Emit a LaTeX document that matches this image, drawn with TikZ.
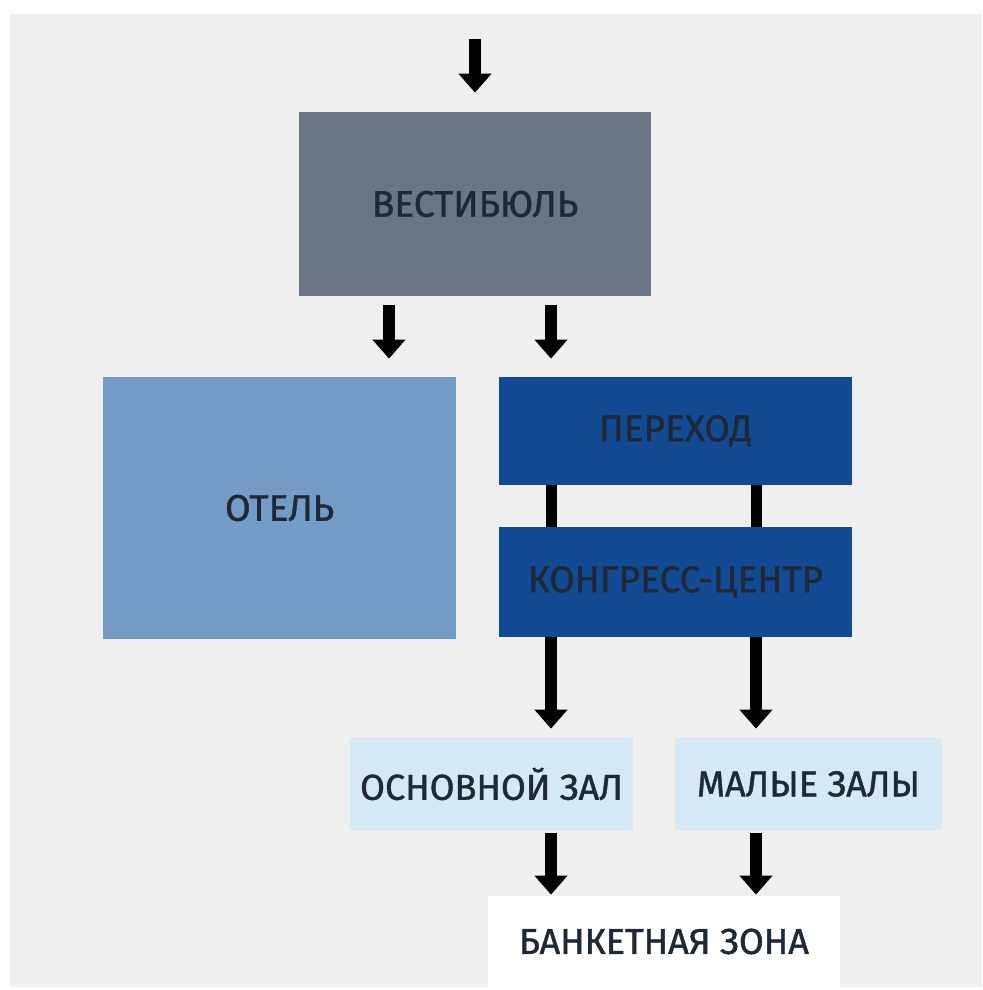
\documentclass[tikz,border=0pt]{standalone}
\usepackage{fontspec}
\setmainfont[FakeBold=1.2]{Fira Sans}
\usetikzlibrary{arrows.meta}

\definecolor{bggray}{HTML}{EFEFEF}
\definecolor{vestgray}{HTML}{6A7684}
\definecolor{hotelblue}{HTML}{739BC6}
\definecolor{deepblue}{HTML}{134A94}
\definecolor{paleblue}{HTML}{D4E8F6}
\definecolor{textdark}{HTML}{1E2836}

\begin{document}
\begin{tikzpicture}[x=0.5pt,y=-0.5pt]

    \tikzset{
      zone/.style={
        draw=none,
        inner sep=0pt,
        text=textdark,
        font=\fontsize{18.5}{20}\selectfont,
      },
      hall/.style={
        zone,
        font=\fontsize{18}{20}\selectfont,
      },
      flow/.style={
        line width=6pt,
        -{Triangle[width=16pt,length=9.5pt]},
      },
      link/.style={line width=5.5pt},
    }
    \useasboundingbox (0,0) rectangle (982,990);
    \fill[bggray] (10,14) rectangle (982,987);

    \node[zone, fill=vestgray, minimum width=176pt, minimum height=92pt] (vest) at (475,204) {ВЕСТИБЮЛЬ};
    \node[zone, fill=hotelblue, minimum width=176.5pt, minimum height=131pt] (hotel) at (279.5,508) {ОТЕЛЬ};
    \node[zone, fill=deepblue, minimum width=176.5pt, minimum height=54pt] (pass) at (675.5,431) {ПЕРЕХОД};
    \node[zone, fill=deepblue, minimum width=176.5pt, minimum height=55pt] (congress) at (675.5,582) {КОНГРЕСС-ЦЕНТР};
    \node[hall, fill=paleblue, minimum width=141.5pt, minimum height=46pt] (mainhall) at (491.5,784) {ОСНОВНОЙ ЗАЛ};
    \node[hall, fill=paleblue, minimum width=133.5pt, minimum height=46pt] (smallhalls) at (808.5,784) {МАЛЫЕ ЗАЛЫ};
    \node[hall, fill=white, minimum width=176pt, minimum height=45.5pt] (banquet) at (664,941.5) {БАНКЕТНАЯ ЗОНА};

    \coordinate (entry) at (475,39);
    \coordinate (lx) at (389,0);
    \coordinate (rx) at (551,0);
    \coordinate (sx) at (756,0);

    \draw[flow, shorten >=9.5pt] (entry) -- (vest.north);
    \draw[flow, shorten <=4.5pt, shorten >=9pt] (vest.south -| lx) -- (hotel.north -| lx);
    \draw[flow, shorten <=4.5pt, shorten >=9pt] (vest.south -| rx) -- (pass.north -| rx);

    \draw[link] (pass.south -| rx) -- (congress.north -| rx);
    \draw[link] (pass.south -| sx) -- (congress.north -| sx);

    \draw[flow, shorten >=4.5pt] (congress.south -| rx) -- (mainhall.north -| rx);
    \draw[flow, shorten >=4.5pt] (congress.south -| sx) -- (smallhalls.north -| sx);
    \draw[flow, shorten <=1.5pt, shorten >=0.5pt] (mainhall.south -| rx) -- (banquet.north -| rx);
    \draw[flow, shorten <=1.5pt, shorten >=0.5pt] (smallhalls.south -| sx) -- (banquet.north -| sx);

\end{tikzpicture}
\end{document}
